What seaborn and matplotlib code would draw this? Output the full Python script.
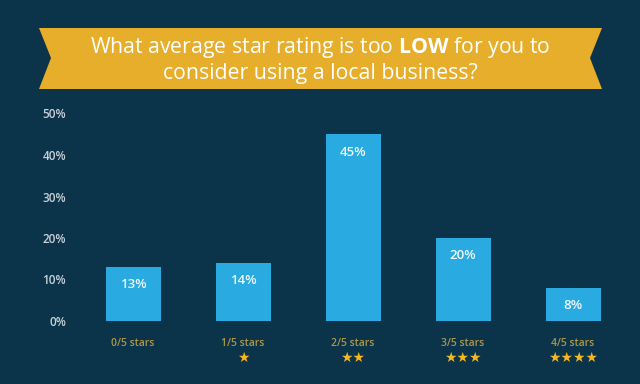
import matplotlib
matplotlib.use("Agg")
import matplotlib.pyplot as plt
from matplotlib.patches import Polygon
import seaborn as sns
import pandas as pd

categories = ["0/5 stars", "1/5 stars", "2/5 stars", "3/5 stars", "4/5 stars"]
values = [13, 14, 45, 20, 8]
star_counts = [0, 1, 2, 3, 4]
yticks = [0, 10, 20, 30, 40, 50]

BG = "#0b3349"
BAR = "#29abe2"
GOLD = "#e6ae2a"
STAR = "#f5b71d"

sns.set_style("white")
plt.rcParams["font.family"] = ["Open Sans", "DejaVu Sans"]
plt.rcParams["mathtext.fontset"] = "custom"
plt.rcParams["mathtext.bf"] = "Open Sans:bold"
plt.rcParams["mathtext.rm"] = "Open Sans"

fig = plt.figure(figsize=(6.4, 3.84), dpi=100, facecolor=BG)
ax = fig.add_axes([78 / 640, 63 / 384, 550 / 640, 207.5 / 384])
ax.set_facecolor(BG)

df = pd.DataFrame({"rating": categories, "pct": values})
sns.barplot(data=df, x="rating", y="pct", color=BAR, saturation=1, width=0.5,
            linewidth=0, edgecolor="none", ax=ax)

ax.set_xlim(-0.5, 4.5)
ax.set_ylim(0, 50)
ax.set_yticks(yticks)
ax.set_yticklabels([f"{t}%" for t in yticks], color="#c9d1d8", fontsize=8.5, fontweight="semibold")
ax.tick_params(axis="y", length=0, pad=8.5)
ax.set_xticks([])
ax.set_xlabel("")
ax.set_ylabel("")
for s in ax.spines.values():
    s.set_visible(False)

for i, v in enumerate(values):
    ax.annotate(f"{v}%", xy=(i, v), xytext=(0, -12.8), textcoords="offset points",
                ha="center", va="center", color="#eef8fd", fontsize=9.5, fontweight="semibold")
    ax.annotate(categories[i], xy=(i, 0), xytext=(0, -16), textcoords="offset points",
                ha="center", va="center", color="#ab974c", fontsize=7.5, fontweight="semibold")
    if star_counts[i]:
        ax.annotate("★" * star_counts[i], xy=(i, 0), xytext=(0, -26.5), textcoords="offset points",
                    ha="center", va="center", color=STAR, fontsize=10, family="DejaVu Sans")

# ribbon banner
W, H = 640, 384
pts = [(39, 28), (602, 28), (590, 58), (602, 89), (39, 89), (51, 58)]
fig.patches.append(Polygon([(x / W, 1 - y / H) for x, y in pts], closed=True,
                           transform=fig.transFigure, facecolor=GOLD, edgecolor="none"))
fig.text(0.5, 1 - 47 / H, r"What average star rating is too $\bf{LOW}$ for you to",
         ha="center", va="center", color="white", fontsize=15.3)
fig.text(0.5, 1 - 74 / H, "consider using a local business?",
         ha="center", va="center", color="white", fontsize=15.3)

fig.savefig("out.png", dpi=100, facecolor=BG)
